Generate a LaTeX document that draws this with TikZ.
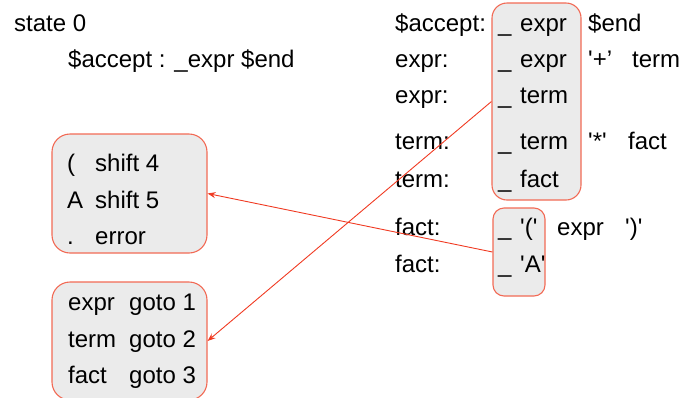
\documentclass[tikz,border=0pt]{standalone}
\usepackage{fontspec}
\setmainfont{Liberation Sans}
\usetikzlibrary{arrows.meta}
\definecolor{boxline}{HTML}{F26A55}
\definecolor{boxfill}{HTML}{EBEBEB}
\definecolor{arrowred}{HTML}{F03A22}
\newcommand{\sq}{\textquotesingle}
\begin{document}
\begin{tikzpicture}[x=1pt,y=-1pt,
  txt/.style={anchor=base west,inner sep=0pt,font=\fontsize{24}{28}\selectfont},
  itembox/.style={draw=boxline,fill=boxfill,line width=1.1pt,inner sep=0pt},
  link/.style={draw=arrowred,line width=0.9pt,-{Stealth[length=8pt,width=6pt]}}]
\useasboundingbox (0,0) rectangle (683,397);
\clip (0,0) rectangle (683,397);

% item-set boxes
\node[itembox,rounded corners=15pt,minimum width=89pt,minimum height=197pt] (kernel) at (536.5,101.5) {};
\node[itembox,rounded corners=11pt,minimum width=52pt,minimum height=88pt] (factbox) at (519,252) {};
\node[itembox,rounded corners=18pt,minimum width=155pt,minimum height=119pt] (actions) at (129.5,193.5) {};
\node[itembox,rounded corners=18pt,minimum width=155pt,minimum height=118pt] (gotos) at (129.5,341) {};

% state header
\node[txt] (st) at (14,31) {state 0};
\node[txt] (st0) at (68,67) {\$accept : \_expr \$end};

% closure items
\node[txt] (l1) at (395,31) {\$accept:};
\node[txt] (l2) at (395,67) {expr:};
\node[txt] (l3) at (395,103) {expr:};
\node[txt] (l4) at (395,149) {term:};
\node[txt] (l5) at (395,187) {term:};
\node[txt] (l6) at (395,235) {fact:};
\node[txt] (l7) at (395,272) {fact:};

\node[txt] (u1) at (498,31) {\_};
\node[txt] (u2) at (498,67) {\_};
\node[txt] (u3) at (498,103) {\_};
\node[txt] (u4) at (498,149) {\_};
\node[txt] (u5) at (498,187) {\_};
\node[txt] (u6) at (498,235) {\_};
\node[txt] (u7) at (498,272) {\_};

\node[txt] (s1) at (520,31) {expr};
\node[txt] (s2) at (520,67) {expr};
\node[txt] (s3) at (520,103) {term};
\node[txt] (s4) at (520,149) {term};
\node[txt] (s5) at (520,187) {fact};
\node[txt] (s6) at (520,235) {\sq(\sq};
\node[txt] (s7) at (520,272) {\sq A\sq};

\node[txt] (r1) at (588,31) {\$end};
\node[txt] (r2) at (588,67) {\sq+'};
\node[txt] (r2b) at (632,67) {term};
\node[txt] (r4) at (588,149) {\sq*\sq};
\node[txt] (r4b) at (628,149) {fact};
\node[txt] (r6) at (557,235) {expr};
\node[txt] (r6b) at (625,235) {\sq)\sq};

% shift actions
\node[txt] (a1) at (67,171) {(};
\node[txt] (a1b) at (95,171) {shift 4};
\node[txt] (a2) at (67,208) {A};
\node[txt] (a2b) at (95,208) {shift 5};
\node[txt] (a3) at (67,244) {.};
\node[txt] (a3b) at (95,244) {error};

% goto actions
\node[txt] (g1) at (68,310) {expr};
\node[txt] (g1b) at (129,310) {goto 1};
\node[txt] (g2) at (68,347) {term};
\node[txt] (g2b) at (129,347) {goto 2};
\node[txt] (g3) at (68,383) {fact};
\node[txt] (g3b) at (129,383) {goto 3};

% connectors
\draw[link] (factbox.west) -- (actions.east);
\draw[link] (kernel.west) -- (gotos.east);
\end{tikzpicture}
\end{document}
